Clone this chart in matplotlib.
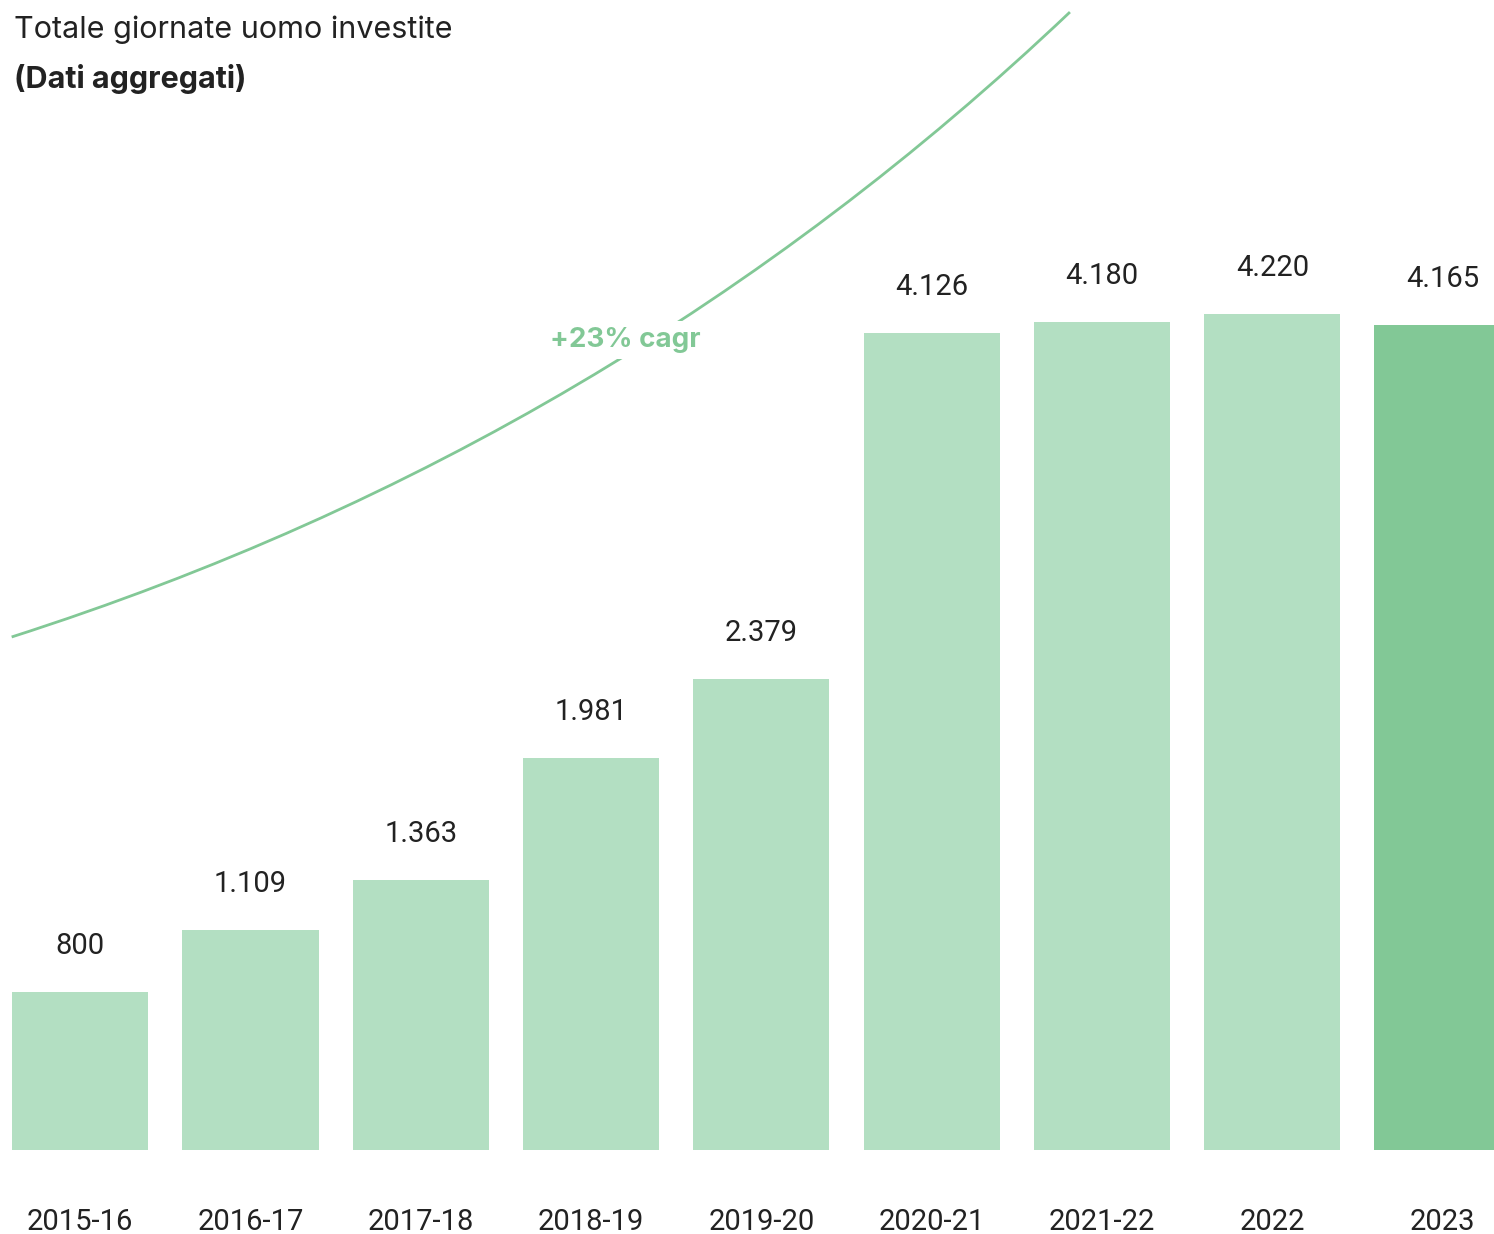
import matplotlib
matplotlib.use("Agg")
import matplotlib.pyplot as plt
from matplotlib.path import Path
from matplotlib.patches import PathPatch

# data
periods = ['2015-16', '2016-17', '2017-18', '2018-19', '2019-20',
           '2020-21', '2021-22', '2022', '2023']
giornate = [800, 1109, 1363, 1981, 2379, 4126, 4180, 4220, 4165]
value_labels = ['800', '1.109', '1.363', '1.981', '2.379',
                '4.126', '4.180', '4.220', '4.165']

# decorative cagr curve: start, control and end point
curve_x = [-0.402, 3.142, 5.812]
curve_y = [2591, 3566, 5747]

light = '#b3dfc2'
dark = '#82c896'
txt = '#222222'

W, H = 1494, 1234
fig = plt.figure(figsize=(W / 100, H / 100), dpi=100)
ax = fig.add_axes([12 / W, 84 / H, 1 - 12 / W, 1 - 84 / H])

x = list(range(len(periods)))
colors = [light] * (len(periods) - 1) + [dark]
bars = ax.bar(x, giornate, width=0.8, color=colors, zorder=2)

for b, lab in zip(bars, value_labels):
    ax.annotate(lab, (b.get_x() + b.get_width() / 2, b.get_height()),
                xytext=(0, 23), textcoords='offset points',
                ha='center', va='bottom', fontsize=21, color=txt,
                family='Roboto')

curve = Path(list(zip(curve_x, curve_y)), [Path.MOVETO, Path.CURVE3, Path.CURVE3])
ax.add_patch(PathPatch(curve, facecolor='none', edgecolor=dark, linewidth=2,
                       zorder=1, clip_on=False))
ax.text(3.204, 4091, '+23% cagr', ha='center', va='center', fontsize=20,
        fontweight='bold', color=dark, family='Inter', zorder=3,
        bbox=dict(facecolor='white', edgecolor='none', pad=4))

ax.set_xlim(-0.4, 8.302)
ax.set_ylim(0, 5808)
ax.set_xticks(x)
ax.set_xticklabels(periods, fontsize=21, color=txt, family='Roboto')
ax.tick_params(axis='x', length=0, pad=42)
ax.set_yticks([])
for s in ax.spines.values():
    s.set_visible(False)

fig.text(14 / W, 1 - 38 / H, 'Totale giornate uomo investite', fontsize=22,
         color=txt, family='Inter', va='baseline')
fig.text(14 / W, 1 - 88 / H, '(Dati aggregati)', fontsize=22,
         fontweight='bold', color=txt, family='Inter', va='baseline')

fig.savefig('out.png', dpi=100)
